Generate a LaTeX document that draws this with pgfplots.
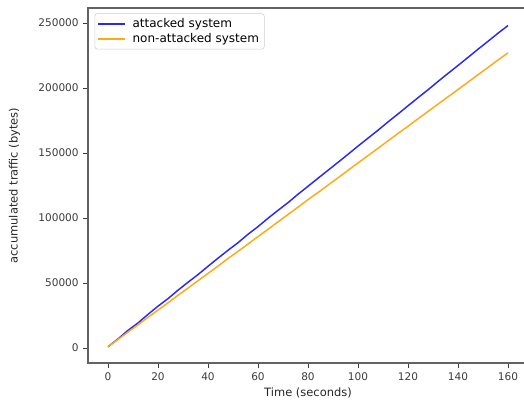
\documentclass[border=0pt]{standalone}
\usepackage{pgfplots}
\pgfplotsset{compat=1.18}
\usepackage{fontspec}
\setmainfont{DejaVu Sans}
\definecolor{mblue}{RGB}{40,40,250}
\definecolor{morange}{RGB}{255,170,20}
\definecolor{tickgray}{RGB}{60,60,60}
\begin{document}
\begin{tikzpicture}
\path[use as bounding box] (-66pt,-28.5pt) rectangle (327pt,272.25pt);
\begin{axis}[
  scale only axis,
  width=330pt, height=266.25pt,
  xmin=-8, xmax=168,
  ymin=-11500, ymax=261500,
  xtick={0,20,...,160},
  ytick={0,50000,...,250000},
  scaled y ticks=false,
  /pgf/number format/assume math mode=true,
  yticklabel={\pgfmathprintnumber[fixed,precision=0,1000 sep={}]{\tick}},
  xticklabel={\pgfmathprintnumber[fixed,precision=0]{\tick}},
  tick align=outside,
  major tick length=3.5pt,
  tick style={tickgray, line width=0.6pt},
  axis line style={tickgray!80, line width=0.8pt},
  xtick pos=bottom, ytick pos=left,
  ticklabel style={font=\fontsize{7.9}{9}\selectfont, text=tickgray},
  label style={font=\fontsize{8.6}{10}\selectfont, text=black!85},
  xlabel={Time (seconds)},
  ylabel={accumulated traffic (bytes)},
  xlabel style={yshift=1pt},
  ylabel style={yshift=7pt},
  legend cell align=left,
  legend style={font=\fontsize{9}{11}\selectfont, draw=black!20, rounded corners=2pt, at={(0.015,0.985)}, anchor=north west, inner xsep=2pt, inner ysep=1.5pt, row sep=-1pt, /tikz/every odd column/.append style={column sep=3pt}},
  legend image code/.code={\draw[#1, line width=1.4pt] (0cm,0cm) -- (0.7cm,0cm);},
]
\addplot[mblue, line width=1.1pt] coordinates {
(0,1000)(4,7000)(8,13600)(12,19300)(16,25900)(20,32200)(24,38000)(28,44500)(32,50600)(36,56500)(40,62900)(44,69100)(48,75200)(52,81000)(56,87500)(60,93400)(64,99800)(68,105900)(72,111800)(76,118300)(80,124400)(84,130600)(88,136700)(92,142800)(96,149000)(100,155300)(104,161400)(108,167500)(112,173900)(116,180000)(120,186300)(124,192500)(128,198600)(132,205000)(136,211200)(140,217300)(144,223500)(148,229800)(152,235900)(156,242100)(160,248000)
};
\addlegendentry{attacked system}
\addplot[morange, line width=1.1pt] coordinates {
(0,1000)(4,6600)(8,12300)(12,17900)(16,23600)(20,29200)(24,34800)(28,40600)(32,46100)(36,51800)(40,57400)(44,63000)(48,68900)(52,74300)(56,80000)(60,85700)(64,91300)(68,97000)(72,102700)(76,108300)(80,114100)(84,119600)(88,125300)(92,130900)(96,136700)(100,142300)(104,148000)(108,153600)(112,159300)(116,165000)(120,170600)(124,176300)(128,181900)(132,187600)(136,193200)(140,198800)(144,204500)(148,210200)(152,215800)(156,221500)(160,227000)
};
\addlegendentry{non-attacked system}
\end{axis}
\end{tikzpicture}
\end{document}
